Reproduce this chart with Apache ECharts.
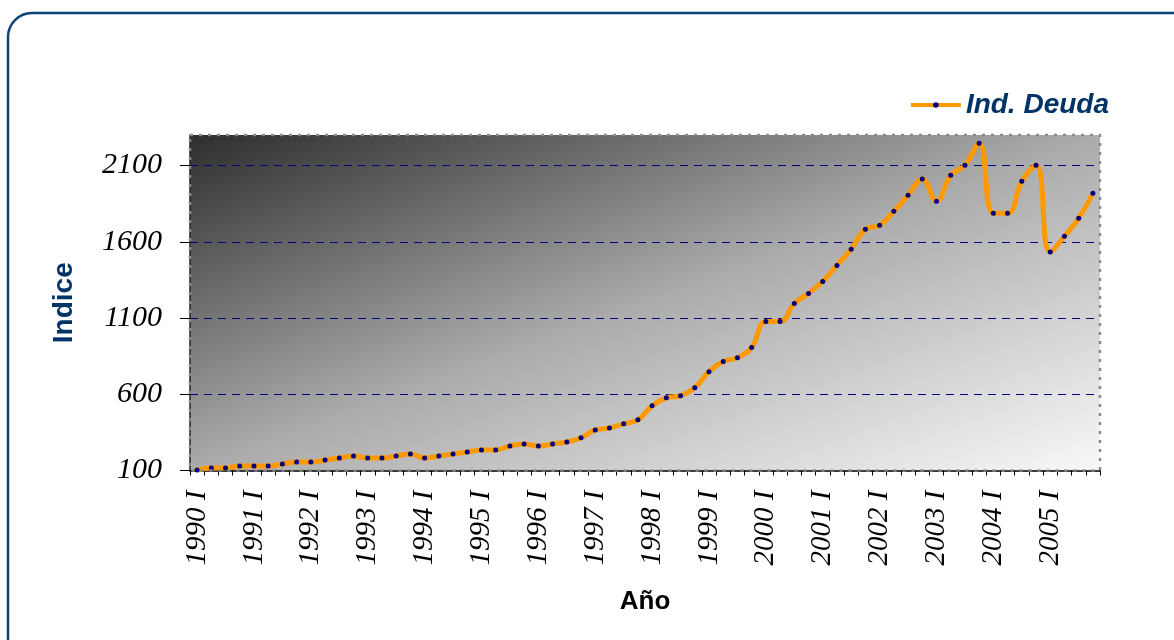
<!DOCTYPE html>
<html>
<head>
<meta charset="utf-8">
<script src="https://cdn.jsdelivr.net/npm/echarts@6/dist/echarts.min.js"></script>
<style>
html,body{margin:0;padding:0;background:#fff;}
#chart{width:1174px;height:640px;}
</style>
</head>
<body>
<div id="chart"></div>
<script>
const years = [1990,1991,1992,1993,1994,1995,1996,1997,1998,1999,2000,2001,2002,2003,2004,2005];
const quarters = ['I','II','III','IV'];
const categories = [];
years.forEach(y => quarters.forEach(q => categories.push(y + ' ' + q)));

const deuda = [
  103,116,116,130,
  130,130,143,155,
  155,169,182,195,
  182,182,195,208,
  182,195,208,221,
  235,235,261,274,
  261,274,287,314,
  366,379,406,432,
  524,577,590,643,
  748,814,840,906,
  1077,1077,1195,1261,
  1340,1445,1551,1682,
  1708,1800,1905,2011,
  1866,2036,2102,2246,
  1787,1787,1997,2102,
  1533,1636,1754,1918
];
const yTicks = [100,600,1100,1600,2100];

const W = 1174, H = 640;
const G = {left:190, top:135, right:74, bottom:169.5};
const gx0 = G.left, gy0 = G.top, gx1 = W - G.right, gy1 = H - G.bottom;
// diagonal gradient direction: perpendicular to the top-right/bottom-left diagonal
const dx = gy1 - gy0, dy = gx1 - gx0;
const t = ((gx1-gx0)*dx + (gy1-gy0)*dy) / (dx*dx + dy*dy);

const chart = echarts.init(document.getElementById('chart'));

chart.setOption({
  backgroundColor:'#ffffff',
  animation:false,
  grid:{
    left:G.left, top:G.top, right:G.right, bottom:G.bottom,
    show:true,
    borderWidth:0,
    backgroundColor:new echarts.graphic.LinearGradient(gx0, gy0, gx0 + t*dx, gy0 + t*dy, [
      {offset:0,color:'#2e2e2e'},
      {offset:0.5,color:'#ababab'},
      {offset:1,color:'#f8f8f8'}
    ], true)
  },
  legend:{
    right:60, top:86,
    itemWidth:50, itemHeight:7, itemGap:8,
    lineStyle:{width:4},
    textStyle:{fontFamily:'Arial, Liberation Sans', fontWeight:'bold', fontStyle:'italic', fontSize:28, color:'#003366'},
    data:['Ind. Deuda']
  },
  xAxis:{
    type:'category',
    data:categories,
    boundaryGap:true,
    name:'Año',
    nameLocation:'middle',
    nameGap:118,
    nameTextStyle:{fontFamily:'Arial, Liberation Sans', fontWeight:'bold', fontSize:26, color:'#000'},
    axisLine:{show:true, lineStyle:{color:'#000', width:1.5}},
    axisTick:{show:true, interval:0, length:5, alignWithLabel:false, lineStyle:{color:'#000'}},
    axisLabel:{
      interval:3, rotate:90, margin:20,
      fontFamily:'Liberation Serif, Times New Roman', fontStyle:'italic', fontSize:29, color:'#000'
    },
    splitLine:{show:false}
  },
  yAxis:{
    type:'value',
    min:100, max:2300, interval:500,
    name:'Indice',
    nameLocation:'middle',
    nameRotate:90,
    nameGap:112,
    nameTextStyle:{fontFamily:'Arial, Liberation Sans', fontWeight:'bold', fontSize:28, color:'#003366'},
    axisLine:{show:true, lineStyle:{color:'#222', width:1.5}},
    axisTick:{show:true, inside:false, length:10, customValues:yTicks, lineStyle:{color:'#000'}},
    axisLabel:{
      customValues:yTicks, margin:28,
      formatter: v => String(v),
      fontFamily:'Liberation Serif, Times New Roman', fontStyle:'italic', fontSize:30, color:'#000'
    },
    splitLine:{show:false}
  },
  series:[{
    name:'Ind. Deuda',
    type:'line',
    data:deuda,
    smooth:0.45,
    symbol:'circle',
    symbolSize:5,
    showAllSymbol:true,
    lineStyle:{color:'#FF9900', width:5},
    itemStyle:{color:'#000080'},
    z:5,
    markLine:{
      silent:true,
      symbol:'none',
      label:{show:false},
      lineStyle:{type:[8,6], color:'#000080', width:1},
      data:yTicks.slice(1).map(v => ({yAxis:v}))
    }
  }],
  graphic:[
    {
      type:'rect', z:100, silent:true,
      shape:{x:gx0, y:gy0, width:gx1-gx0, height:gy1-gy0},
      style:{fill:'none', stroke:'#8a8a8a', lineWidth:2.5, lineDash:[3,6]}
    },
    {
      type:'rect', z:100, silent:true,
      shape:{x:8, y:13, width:1190, height:660, r:24},
      style:{fill:'none', stroke:'#0f4275', lineWidth:2.5}
    }
  ]
});
</script>
</body>
</html>
